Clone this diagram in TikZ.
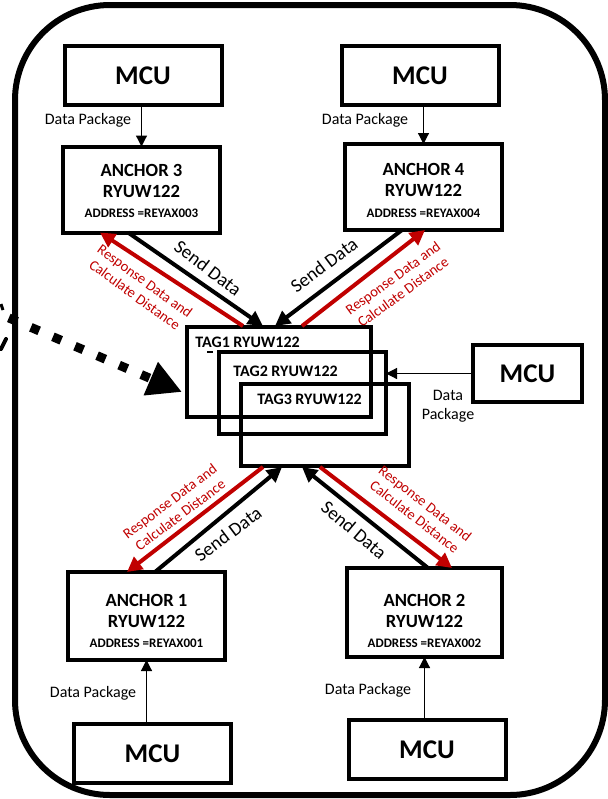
\documentclass[tikz,border=0pt]{standalone}
\usepackage{fontspec}
\setmainfont{Carlito}
\usetikzlibrary{arrows.meta,calc}
\definecolor{rd}{HTML}{C00000}
\tikzset{
 frame/.style={line width=3pt},
 box/.style={draw,line width=2pt,inner sep=0pt,outer sep=0pt},
 mcubox/.style={box,minimum width=78.5pt,minimum height=29.5pt,font=\fontsize{13.5}{16}\selectfont\bfseries},
 ancbox/.style={box,minimum width=78.5pt,minimum height=43pt},
 atitle/.style={font=\fontsize{9.3}{11}\selectfont\bfseries,inner sep=0pt},
 aaddr/.style={font=\fontsize{6.5}{8}\selectfont\bfseries,inner sep=0pt},
 tagtxt/.style={font=\fontsize{8}{10}\selectfont\bfseries,inner sep=0pt,anchor=west},
 pkg/.style={font=\fontsize{8}{9.6}\selectfont,inner sep=0pt,align=center},
 feed/.style={line width=0.6pt,-{Triangle[length=5.5pt,width=5.5pt]}},
 sendarr/.style={line width=2pt,-{Triangle[length=7.5pt,width=7.5pt]}},
 resparr/.style={sendarr,draw=rd},
 sendlbl/.style={font=\fontsize{9.5}{11}\selectfont,inner sep=0pt},
 resplbl/.style={font=\fontsize{7.3}{8.6}\selectfont,text=rd,align=center,inner sep=0pt},
}
\begin{document}
\begin{tikzpicture}[x=0.5pt,y=-0.5pt]
\useasboundingbox (0,0) rectangle (608,799);
\clip (0,0) rectangle (608,799);
\draw[frame,rounded corners=47.5pt] (15,5) rectangle (605,795);

% MCU boxes
\node[mcubox] (m3) at (143,75.5) {MCU};
\node[mcubox] (m4) at (420,75.5) {MCU};
\node[mcubox] (m1) at (152.5,753.5) {MCU};
\node[mcubox] (m2) at (427,749.5) {MCU};
\node[mcubox,minimum width=54.5pt,minimum height=28.5pt] (m5) at (527.5,373.5) {MCU};

% Anchor boxes
\node[ancbox] (a3) at (141.5,189.5) {};
\node[atitle] (a3t) at ($(a3.center)+(0,-19)$) {ANCHOR 3};
\node[atitle] (a3r) at ($(a3.center)+(0,1.5)$) {RYUW122};
\node[aaddr] (a3a) at ($(a3.center)+(0,24)$) {ADDRESS =REYAX003};

\node[ancbox] (a4) at (423.5,187) {};
\node[atitle] (a4t) at ($(a4.center)+(0,-18)$) {ANCHOR 4};
\node[atitle] (a4r) at ($(a4.center)+(0,3)$) {RYUW122};
\node[aaddr] (a4a) at ($(a4.center)+(0,26)$) {ADDRESS =REYAX004};

\node[ancbox,minimum height=44pt] (a1) at (146.5,616) {};
\node[atitle] (a1t) at ($(a1.center)+(0,-16)$) {ANCHOR 1};
\node[atitle] (a1r) at ($(a1.center)+(0,5)$) {RYUW122};
\node[aaddr] (a1a) at ($(a1.center)+(0,27)$) {ADDRESS =REYAX001};

\node[ancbox,minimum width=77.5pt,minimum height=44.5pt] (a2) at (424.5,612.5) {};
\node[atitle] (a2t) at ($(a2.center)+(0,-12.5)$) {ANCHOR 2};
\node[atitle] (a2r) at ($(a2.center)+(0,8.5)$) {RYUW122};
\node[aaddr] (a2a) at ($(a2.center)+(0,30.5)$) {ADDRESS =REYAX002};

% Tag boxes
\node[box,minimum width=92pt,minimum height=45pt] (t1) at (279,372) {};
\node[box,minimum width=83.5pt,minimum height=41pt] (t2) at (302.5,393) {};
\node[box,minimum width=84pt,minimum height=41pt] (t3) at (325,425) {};
\node[tagtxt] (t1l) at (195,342) {TAG1 RYUW122};
\node[tagtxt] (t2l) at (233,371) {TAG2 RYUW122};
\node[tagtxt] (t3l) at (257,399) {TAG3 RYUW122};
\draw[line width=0.8pt] ($(t2.north west)+(-12,0)$) -- ($(t2.north west)+(-6,0)$);

% MCU feeds
\draw[feed] (a3.north |- m3.south) -- (a3.north);
\draw[feed] (a4.north |- m4.south) -- (a4.north);
\draw[feed] (a1.south |- m1.north) -- (a1.south);
\draw[feed] (a2.south |- m2.north) -- (a2.south);
\draw[feed] (m5.west) -- (t2.east |- m5.west);
\node[pkg] (p3) at (88,120) {Data Package};
\node[pkg] (p4) at (365,120) {Data Package};
\node[pkg] (p1) at (93,693) {Data Package};
\node[pkg] (p2) at (368,690) {Data Package};
\node[pkg] (p5) at (448,406) {Data\\Package};

% Anchor 3 <-> tags
\draw[resparr] ($(t1.north west)+(56,-1)$) -- ($(a3.south west)+(37,0)$);
\draw[sendarr] ($(a3.south west)+(65,0)$) -- ($(t1.north west)+(76,-1)$);
% Anchor 4 <-> tags
\draw[sendarr] ($(a4.south west)+(57,0)$) -- ($(t1.north west)+(88,-1)$);
\draw[resparr] ($(t1.north west)+(115,-1)$) -- ($(a4.south west)+(80,0)$);
% Anchor 1 <-> tags
\draw[resparr] ($(t3.south west)+(22,1)$) -- ($(a1.north west)+(59,0)$);
\draw[sendarr] ($(a1.north west)+(87,0)$) -- ($(t3.south west)+(41,1)$);
% Anchor 2 <-> tags
\draw[sendarr] ($(a2.north west)+(81,0)$) -- ($(t3.south west)+(61,1)$);
\draw[resparr] ($(t3.south west)+(79,1)$) -- ($(a2.north west)+(105,0)$);

% labels
\node[sendlbl,rotate=-37] (s3) at (208,268) {Send Data};
\node[resplbl,rotate=-36] (r3) at (140,288) {Response Data and\\Calculate Distance};
\node[sendlbl,rotate=37] (s4) at (324,265) {Send Data};
\node[resplbl,rotate=36] (r4) at (398,285) {Response Data and\\Calculate Distance};
\node[resplbl,rotate=37] (r1) at (175,508) {Response Data and\\Calculate Distance};
\node[sendlbl,rotate=37] (s1) at (228,534) {Send Data};
\node[sendlbl,rotate=-40] (s2) at (354,530) {Send Data};
\node[resplbl,rotate=-38] (r2) at (420,510) {Response Data and\\Calculate Distance};

% dotted arrow
\coordinate (dstart) at (-40,297);
\coordinate (dtip) at ($(t1.west)+(-5,20)$);
\draw[line width=4.5pt,dash pattern=on 4.5pt off 7.5pt,dash phase=9.45pt,-{Triangle[length=17pt,width=17pt]}] (dstart) -- (dtip);

% cut-off marks at left edge
\draw[line width=1.5pt] (1,304) -- (3,310);
\draw[line width=2pt,line cap=round] (6,339) -- (1,349);
\end{tikzpicture}
\end{document}
